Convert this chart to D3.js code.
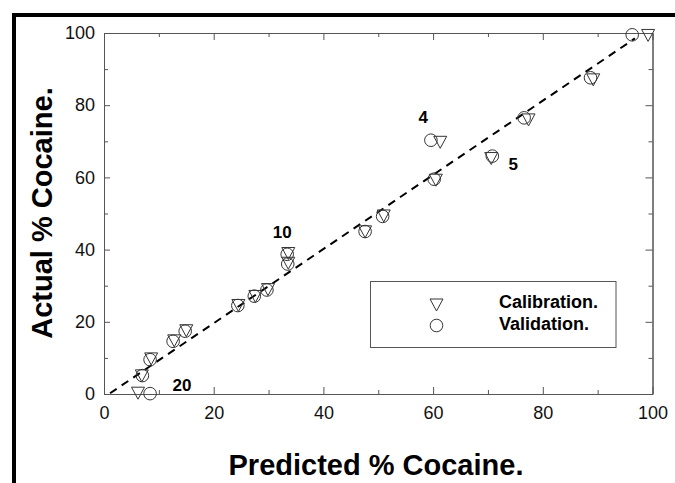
<!DOCTYPE html>
<html>
<head>
<meta charset="utf-8">
<script src="https://cdn.jsdelivr.net/npm/d3@7"></script>
<style>
  body { margin: 0; background: #fff; }
  svg { display: block; font-family: "Liberation Sans", Arial, sans-serif; }
</style>
</head>
<body>
<svg id="chart" width="675" height="483"></svg>
<script>
// calibration set (down triangles)
const calibX = [6.2, 6.9, 8.6, 12.8, 15.0, 24.5, 27.6, 29.9, 33.6, 33.6, 47.6, 51.0, 61.3, 60.5, 70.6, 77.4, 89.2, 99.2]
const calibY = [0.5, 5.3, 10.0, 15.0, 17.8, 24.8, 27.3, 29.2, 39.2, 36.5, 45.2, 49.6, 70.0, 59.5, 65.5, 76.2, 87.3, 99.6]
// validation set (circles)
const validX = [8.4, 7.0, 8.4, 12.6, 14.8, 24.4, 27.4, 29.7, 33.4, 33.5, 47.6, 50.8, 59.6, 60.2, 70.8, 76.6, 88.7, 96.3]
const validY = [0.1, 5.1, 9.5, 14.6, 17.4, 24.5, 27.1, 28.8, 38.7, 36.0, 45.0, 49.2, 70.3, 59.5, 65.9, 76.5, 87.6, 99.5]
// dashed fit line end points
const fitX = [1.1, 96.8]
const fitY = [0.2, 98.5]
// sample number labels
const labelText = ['20', '10', '4', '5']
const labelX = [14.2, 32.5, 58.2, 74.6]
const labelY = [2.3, 44.6, 76.5, 63.7]
const seriesNames = ['Calibration.', 'Validation.']
const majorTicks = [0, 20, 40, 60, 80, 100]
const minorTicks = [10, 30, 50, 70, 90]

const svg = d3.select('#chart')

// outer frame
svg.append('rect')
  .attr('x', 14).attr('y', 15)
  .attr('width', 720).attr('height', 520)
  .attr('fill', 'none').attr('stroke', '#000').attr('stroke-width', 4)

const plotLeft = 104, plotRight = 652.5, plotTop = 33, plotBottom = 394
const x = d3.scaleLinear().domain([0, 100]).range([plotLeft, plotRight])
const y = d3.scaleLinear().domain([0, 100]).range([plotBottom, plotTop])

const axisColor = '#555'

function styleAxis (g, labels) {
  g.select('.domain').attr('stroke', axisColor)
  g.selectAll('.tick line').attr('stroke', axisColor)
  if (labels) {
    g.selectAll('.tick text')
      .attr('font-size', 18)
      .attr('fill', '#111')
      .attr('font-family', '"Liberation Sans", Arial, sans-serif')
  } else {
    g.selectAll('.tick text').remove()
  }
}

// bottom
svg.append('g').attr('transform', `translate(0,${plotBottom})`)
  .call(d3.axisBottom(x).tickValues(majorTicks).tickSizeInner(-7).tickSizeOuter(0).tickPadding(12))
  .call(g => styleAxis(g, true))
svg.append('g').attr('transform', `translate(0,${plotBottom})`)
  .call(d3.axisBottom(x).tickValues(minorTicks).tickSizeInner(-4).tickSizeOuter(0))
  .call(g => styleAxis(g, false))
// left
svg.append('g').attr('transform', `translate(${plotLeft},0)`)
  .call(d3.axisLeft(y).tickValues(majorTicks).tickSizeInner(-6).tickSizeOuter(0).tickPadding(9))
  .call(g => styleAxis(g, true))
svg.append('g').attr('transform', `translate(${plotLeft},0)`)
  .call(d3.axisLeft(y).tickValues(minorTicks).tickSizeInner(-4).tickSizeOuter(0))
  .call(g => styleAxis(g, false))
// top
svg.append('g').attr('transform', `translate(0,${plotTop})`)
  .call(d3.axisTop(x).tickValues(majorTicks).tickSizeInner(-7).tickSizeOuter(0))
  .call(g => styleAxis(g, false))
svg.append('g').attr('transform', `translate(0,${plotTop})`)
  .call(d3.axisTop(x).tickValues(minorTicks).tickSizeInner(-4).tickSizeOuter(0))
  .call(g => styleAxis(g, false))
// right
svg.append('g').attr('transform', `translate(${plotRight},0)`)
  .call(d3.axisRight(y).tickValues(majorTicks).tickSizeInner(-7).tickSizeOuter(0))
  .call(g => styleAxis(g, false))
svg.append('g').attr('transform', `translate(${plotRight},0)`)
  .call(d3.axisRight(y).tickValues(minorTicks).tickSizeInner(-4).tickSizeOuter(0))
  .call(g => styleAxis(g, false))

// fit line
svg.append('path')
  .datum(d3.zip(fitX, fitY))
  .attr('d', d3.line().x(d => x(d[0])).y(d => y(d[1])))
  .attr('fill', 'none')
  .attr('stroke', '#000')
  .attr('stroke-width', 2)
  .attr('stroke-dasharray', '8,6')

const triPath = 'M-6.5,-5L6.5,-5L0,7Z'
const markStroke = '#333'

svg.append('g').selectAll('circle')
  .data(d3.zip(validX, validY))
  .join('circle')
  .attr('cx', d => x(d[0]))
  .attr('cy', d => y(d[1]))
  .attr('r', 6.3)
  .attr('fill', 'none')
  .attr('stroke', markStroke)
  .attr('stroke-width', 1)

svg.append('g').selectAll('path')
  .data(d3.zip(calibX, calibY))
  .join('path')
  .attr('transform', d => `translate(${x(d[0])},${y(d[1])})`)
  .attr('d', triPath)
  .attr('fill', 'none')
  .attr('stroke', markStroke)
  .attr('stroke-width', 1)

// sample labels
svg.append('g').selectAll('text')
  .data(labelText)
  .join('text')
  .attr('x', (d, i) => x(labelX[i]))
  .attr('y', (d, i) => y(labelY[i]))
  .attr('text-anchor', 'middle')
  .attr('dominant-baseline', 'central')
  .attr('font-size', 17)
  .attr('font-weight', 'bold')
  .text(d => d)

// legend
const legend = svg.append('g')
legend.append('rect')
  .attr('x', 370.5).attr('y', 281.5)
  .attr('width', 245.5).attr('height', 66)
  .attr('fill', '#fff').attr('stroke', axisColor).attr('stroke-width', 1)
legend.append('path')
  .attr('transform', 'translate(436.5,304)')
  .attr('d', triPath)
  .attr('fill', 'none').attr('stroke', markStroke)
legend.append('circle')
  .attr('cx', 436.5).attr('cy', 325.5).attr('r', 6.3)
  .attr('fill', 'none').attr('stroke', markStroke)
legend.selectAll('text')
  .data(seriesNames)
  .join('text')
  .attr('x', 499)
  .attr('y', (d, i) => 302 + i * 22)
  .attr('dominant-baseline', 'central')
  .attr('font-size', 18)
  .attr('font-weight', 'bold')
  .text(d => d)

// axis titles
svg.append('text')
  .attr('x', 376).attr('y', 475)
  .attr('text-anchor', 'middle')
  .attr('font-size', 29)
  .attr('font-weight', 'bold')
  .text('Predicted % Cocaine.')

svg.append('text')
  .attr('transform', 'translate(52,213) rotate(-90)')
  .attr('text-anchor', 'middle')
  .attr('font-size', 29)
  .attr('font-weight', 'bold')
  .text('Actual % Cocaine.')
</script>
</body>
</html>
